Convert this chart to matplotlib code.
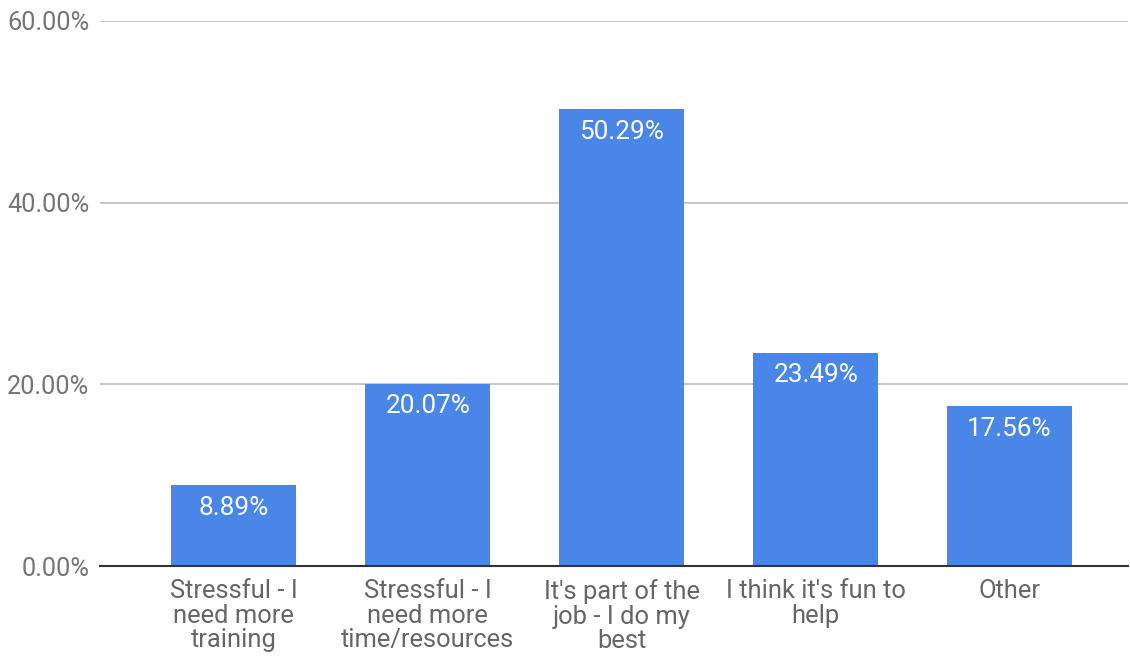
import matplotlib.pyplot as plt

plt.rcParams['font.family'] = ['Roboto', 'DejaVu Sans']

# Survey answers
categorias = ['Stressful - I\nneed more\ntraining',
              'Stressful - I\nneed more\ntime/resources',
              "It's part of the\njob - I do my\nbest",
              "I think it's fun to\nhelp",
              'Other']
percentuais = [8.89, 20.07, 50.29, 23.49, 17.56]
ticks_y = [0, 20, 40, 60]

fig = plt.figure(figsize=(11.3, 6.56), dpi=100)
ax = fig.add_axes([100 / 1130, 90 / 656, 1028 / 1130, 545 / 656])

x = range(len(categorias))
barras = ax.bar(x, percentuais, width=0.645, color='#4a86e8', zorder=3)

# Value labels inside the top of each bar
for b, v in zip(barras, percentuais):
    ax.annotate(f'{v:.2f}%', (b.get_x() + b.get_width() / 2, v),
                xytext=(0, -7.5), textcoords='offset points',
                ha='center', va='top', color='white', fontsize=18.8,
                zorder=4)

ax.set_xlim(-0.69, 4.61)
ax.set_ylim(0, 60)
ax.set_yticks(ticks_y)
ax.set_yticklabels([f'{t:.2f}%' for t in ticks_y])
ax.set_xticks(list(x))
ax.set_xticklabels(categorias, linespacing=1.03)

ax.grid(axis='y', color='#c0c0c0', linewidth=1.3, zorder=0)
for lado in ['top', 'right', 'left']:
    ax.spines[lado].set_visible(False)
ax.spines['bottom'].set_color('#333333')
ax.spines['bottom'].set_linewidth(1.5)
ax.spines['bottom'].set_zorder(5)

ax.tick_params(axis='y', length=0, pad=7.5, labelsize=18.3, labelcolor='#757575')
ax.tick_params(axis='x', length=0, pad=9.5, labelsize=18.4, labelcolor='#666666')

fig.savefig('out.png', dpi=100)
